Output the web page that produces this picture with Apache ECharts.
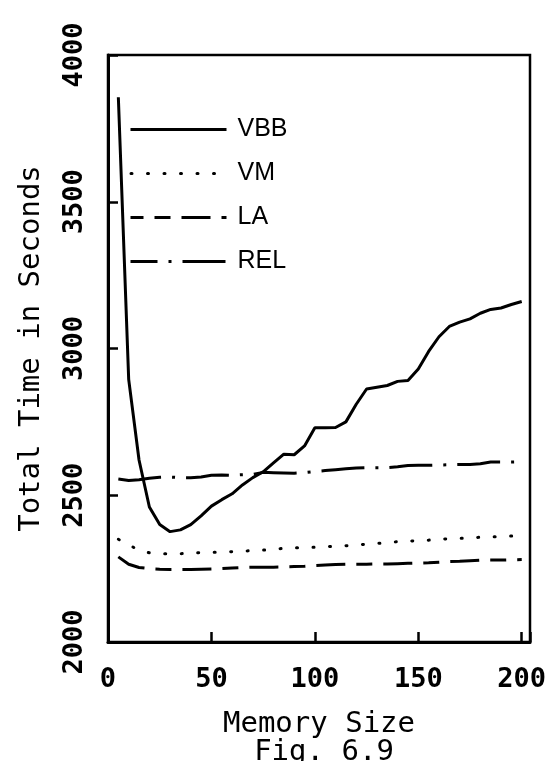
<!DOCTYPE html>
<html>
<head>
<meta charset="utf-8">
<script src="https://cdn.jsdelivr.net/npm/echarts@6/dist/echarts.min.js"></script>
<style>
html,body{margin:0;padding:0;background:#fff;}
#chart{width:550px;height:761px;}
</style>
</head>
<body>
<div id="chart"></div>
<script>
// Data
const memorySize = [5,10,15,20,25,30,35,40,45,50,55,60,65,70,75,80,85,90,95,100,105,110,115,120,125,130,135,140,145,150,155,160,165,170,175,180,185,190,195,200];
const vbb = [3856,2895,2620,2460,2400,2376,2382,2400,2430,2463,2485,2505,2535,2560,2580,2610,2640,2638,2668,2730,2730,2731,2750,2810,2862,2868,2874,2888,2891,2930,2990,3040,3075,3090,3101,3120,3133,3138,3150,3160];
const vm  = [2350,2332,2312,2304,2301,2301,2301,2302,2305,2306,2306,2308,2310,2311,2313,2316,2319,2321,2321,2323,2325,2326,2328,2331,2333,2336,2338,2342,2344,2345,2347,2350,2352,2353,2354,2357,2359,2359,2361,2363];
const la  = [2290,2265,2254,2250,2248,2247,2247,2247,2248,2249,2250,2252,2254,2255,2255,2255,2256,2257,2258,2260,2262,2264,2265,2265,2265,2266,2266,2267,2268,2269,2270,2272,2274,2275,2277,2279,2279,2279,2280,2281];
const rel = [2555,2550,2553,2558,2561,2562,2560,2560,2562,2568,2569,2568,2570,2571,2578,2577,2576,2575,2577,2581,2584,2587,2590,2593,2594,2594,2594,2597,2601,2602,2602,2603,2604,2605,2605,2607,2613,2613,2613,2614];
const seriesNames = ['VBB','VM','LA','REL'];
const xTicks = [0,50,100,150,200];
const yTicks = [2000,2500,3000,3500,4000];

function pairs(ys){ return memorySize.map((x,i)=>[x, ys[i]]); }

const monoFont = "'DejaVu Sans Mono', monospace";
const chart = echarts.init(document.getElementById('chart'), null, {renderer:'canvas'});

const styles = {
  VBB: {type:'solid'},
  VM: {type:[1,15.5], cap:'round'},
  LA: {type:[29,11,16,11]},
  REL: {type:[43,11,3,11]}
};
const dataMap = {VBB: vbb, VM: vm, LA: la, REL: rel};

chart.setOption({
  animation:false,
  backgroundColor:'#fff',
  title:{
    text:'Fig. 6.9',
    left:319, top:733,
    textAlign:'center',
    textStyle:{fontFamily:monoFont, fontSize:29, fontWeight:'normal', color:'#000'}
  },
  grid:{left:108, right:20, top:55, bottom:119, show:true, borderColor:'#000', borderWidth:2.5, backgroundColor:'transparent'},
  legend:{
    orient:'vertical', left:124, top:112,
    itemWidth:96, itemHeight:20, itemGap:19,
    itemStyle:{opacity:0, color:'transparent', borderWidth:0},
    lineStyle:{width:3},
    data: seriesNames.map(n => n==='VM' ? {name:n, lineStyle:{dashOffset:16, width:3}} : {name:n}),
    textStyle:{fontFamily:"'Liberation Sans', Arial, sans-serif", fontSize:25, color:'#000', padding:[0,0,0,6]}
  },
  xAxis:{
    type:'value', min:0, max:204, interval:50,
    name:'Memory Size', nameLocation:'middle', nameGap:68,
    nameTextStyle:{fontFamily:monoFont, fontSize:29, color:'#000'},
    axisLine:{show:true, lineStyle:{color:'#000', width:3}},
    axisTick:{show:true, inside:true, length:10, lineStyle:{color:'#000', width:2.5}},
    axisLabel:{margin:24, fontFamily:monoFont, fontWeight:'bold', fontSize:27, color:'#000',
      formatter: v => xTicks.indexOf(v) >= 0 ? String(v) : ''},
    splitLine:{show:false}
  },
  yAxis:{
    type:'value', min:2000, max:4000, interval:500,
    name:'Total Time in Seconds', nameLocation:'middle', nameGap:62, nameRotate:90,
    nameTextStyle:{fontFamily:monoFont, fontSize:29, color:'#000'},
    axisLine:{show:true, lineStyle:{color:'#000', width:3}},
    axisTick:{show:true, inside:true, length:10, lineStyle:{color:'#000', width:2.5}},
    axisLabel:{rotate:90, margin:20, fontFamily:monoFont, fontWeight:'bold', fontSize:27, color:'#000',
      formatter: v => yTicks.indexOf(v) >= 0 ? String(v) : ''},
    splitLine:{show:false}
  },
  series: seriesNames.map(n => ({
    name:n, type:'line', data:pairs(dataMap[n]),
    symbol:'none', smooth:false,
    lineStyle:Object.assign({color:'#000', width:3}, styles[n]),
    itemStyle:{color:'#000'}
  }))
});
</script>
</body>
</html>
